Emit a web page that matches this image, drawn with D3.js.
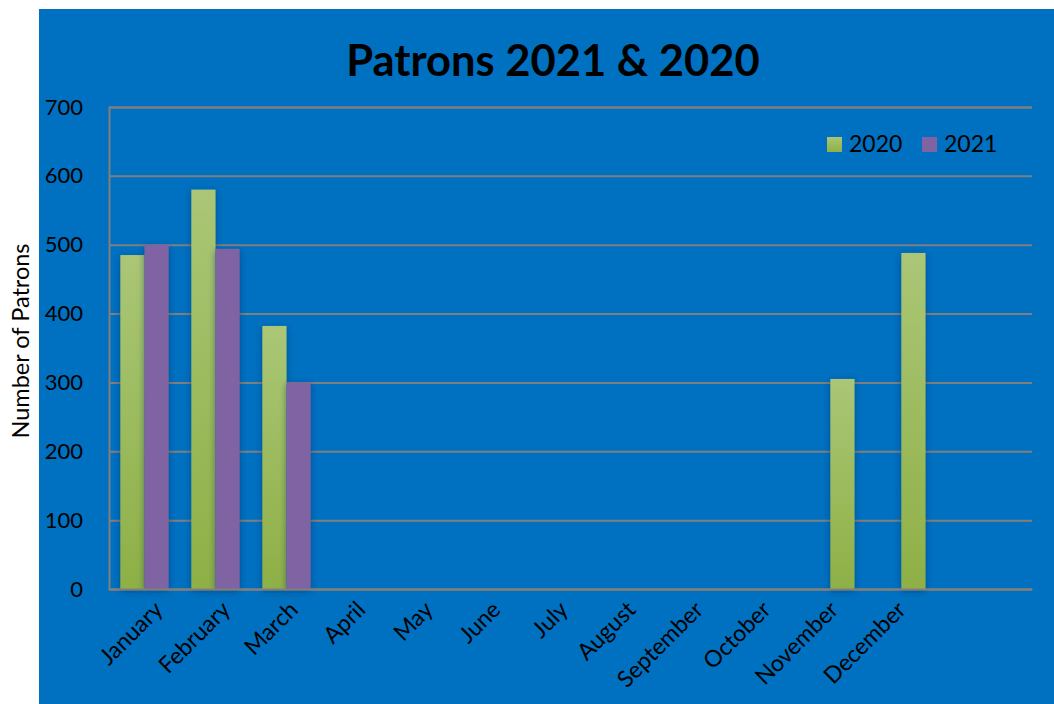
<!DOCTYPE html>
<html>
<head>
<meta charset="utf-8">
<script src="https://cdn.jsdelivr.net/npm/d3@7"></script>
<style>
  body { margin: 0; background: #ffffff; }
  svg { display: block; }
</style>
</head>
<body>
<div class="chart"></div>
<script>
const w = 1054;
const h = 704;

// data
const months = ["January", "February", "March", "April", "May", "June", "July",
  "August", "September", "October", "November", "December", ""];
const series = ["2020", "2021"];
const patrons2020 = [485, 580, 382, 0, 0, 0, 0, 0, 0, 0, 305, 488, 0];
const patrons2021 = [500, 494, 300, 0, 0, 0, 0, 0, 0, 0, 0, 0, 0];
const yTicks = [0, 100, 200, 300, 400, 500, 600, 700];

const plot = { left: 109, right: 1032, top: 107, bottom: 589 };
const font = "Lato, 'Open Sans', sans-serif";

const svg = d3
  .select(".chart")
  .append("svg")
  .attr("width", w)
  .attr("height", h);

const defs = svg.append("defs");
const grad = defs.append("linearGradient")
  .attr("id", "green")
  .attr("x1", 0).attr("y1", 0).attr("x2", 0).attr("y2", 1);
grad.append("stop").attr("offset", "0%").attr("stop-color", "#aac676");
grad.append("stop").attr("offset", "100%").attr("stop-color", "#8eb046");

const shadow = defs.append("filter")
  .attr("id", "shadow")
  .attr("x", "-50%").attr("y", "-20%").attr("width", "200%").attr("height", "140%");
shadow.append("feDropShadow")
  .attr("dx", 0).attr("dy", 2)
  .attr("stdDeviation", 3)
  .attr("flood-color", "#003060")
  .attr("flood-opacity", 0.55);

// blue panel
svg.append("rect")
  .attr("x", 39).attr("y", 9)
  .attr("width", w - 39).attr("height", h - 9)
  .attr("fill", "#0070c0");

const xScale = d3.scaleBand()
  .domain(months)
  .range([plot.left, plot.right])
  .paddingInner(0.32)
  .paddingOuter(0.16);

const xSub = d3.scaleBand()
  .domain(series)
  .range([0, xScale.bandwidth()]);

// month labels sit on a slightly tighter spacing than the bars
const labelScale = d3.scalePoint()
  .domain(months.slice(0, 12))
  .range([plot.left + 51, plot.left + 794]);

const yScale = d3.scaleLinear()
  .domain([0, 700])
  .range([plot.bottom, plot.top]);

// gridlines
const yAxis = d3.axisLeft(yScale)
  .tickValues(yTicks)
  .tickSize(-(plot.right - plot.left))
  .tickPadding(26)
  .tickFormat(d3.format("d"));

const gy = svg.append("g")
  .attr("id", "y-axis")
  .attr("transform", `translate(${plot.left},0)`)
  .call(yAxis);
gy.select(".domain").attr("stroke", "#7f7f7f").attr("stroke-width", 2);
gy.selectAll(".tick line").attr("stroke", "#7f7f7f").attr("stroke-width", 2);
gy.selectAll(".tick text")
  .attr("fill", "#000")
  .style("font-family", font)
  .style("font-size", "22px");

// bars
const rows = months.map((m, i) => ({ month: m, values: [patrons2020[i], patrons2021[i]] }));

const groups = svg.append("g")
  .selectAll("g")
  .data(rows)
  .enter()
  .append("g")
  .attr("transform", (d) => `translate(${xScale(d.month)},0)`);

groups.selectAll("rect")
  .data((d) => d.values.map((v, j) => ({ key: series[j], value: v })).filter((d) => d.value > 0))
  .enter()
  .append("rect")
  .attr("x", (d) => xSub(d.key))
  .attr("y", (d) => yScale(d.value))
  .attr("width", xSub.bandwidth())
  .attr("height", (d) => plot.bottom - yScale(d.value))
  .attr("fill", (d) => (d.key === "2020" ? "url(#green)" : "#8064a2"))
  .attr("filter", "url(#shadow)");

// x axis
const xAxis = d3.axisBottom(xScale).tickSize(0).tickFormat("");
const gx = svg.append("g")
  .attr("id", "x-axis")
  .attr("transform", `translate(0,${plot.bottom})`)
  .call(xAxis);
gx.select(".domain").attr("stroke", "#7f7f7f").attr("stroke-width", 2);

svg.append("g")
  .selectAll("text")
  .data(months.slice(0, 12))
  .enter()
  .append("text")
  .attr("transform", (d) => `translate(${labelScale(d) - 8},${plot.bottom + 10}) rotate(-45)`)
  .attr("text-anchor", "end")
  .attr("dy", "0.75em")
  .style("font-family", font)
  .style("font-size", "23px")
  .attr("fill", "#000")
  .text((d) => d);

// title
svg.append("text")
  .attr("x", 553)
  .attr("y", 76)
  .attr("text-anchor", "middle")
  .style("font-family", font)
  .style("font-weight", "bold")
  .style("font-size", "43.5px")
  .attr("fill", "#000")
  .text("Patrons 2021 & 2020");

// y axis title
svg.append("text")
  .attr("transform", "translate(29,341) rotate(-90)")
  .attr("text-anchor", "middle")
  .style("font-family", font)
  .style("font-size", "23.5px")
  .attr("fill", "#000")
  .text("Number of Patrons");

// legend
const legend = svg.append("g").attr("transform", "translate(827,137)");
const legendX = [0, 95];
series.forEach((s, i) => {
  const g = legend.append("g").attr("transform", `translate(${legendX[i]},0)`);
  g.append("rect")
    .attr("width", 15).attr("height", 15)
    .attr("fill", i === 0 ? "url(#green)" : "#8064a2");
  g.append("text")
    .attr("x", 22).attr("y", 15)
    .style("font-family", font)
    .style("font-size", "23px")
    .attr("fill", "#000")
    .text(s);
});
</script>
</body>
</html>
